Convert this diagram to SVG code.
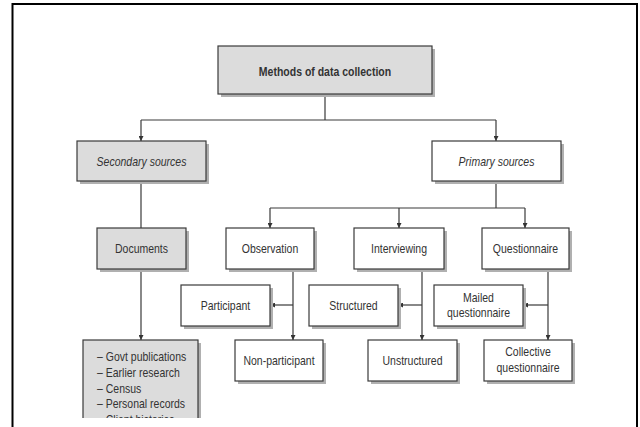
<svg xmlns="http://www.w3.org/2000/svg" width="640" height="427" viewBox="0 0 640 427">
<style>
  .box { stroke: #3a3a3a; stroke-width: 1.2; }
  .grey { fill: #dcdcdc; }
  .white { fill: #ffffff; }
  .shadow { fill: #b0b0b0; }
  .t { font-family: "Liberation Sans", Arial, sans-serif; font-size: 12.5px; fill: #333; text-anchor: middle; }
  .tl { font-family: "Liberation Sans", Arial, sans-serif; font-size: 12.5px; fill: #333; }
  .b { font-weight: bold; }
  .i { font-style: italic; }
  .conn { stroke: #3a3a3a; stroke-width: 1.2; fill: none; }
  .frame { stroke: #000; stroke-width: 2; fill: none; }
</style>
<defs>
  <marker id="arr" viewBox="0 0 10 10" refX="10" refY="5" markerWidth="5" markerHeight="5" orient="auto" markerUnits="userSpaceOnUse">
    <path d="M0,0 L10,5 L0,10 z" fill="#333"/>
  </marker>
  <clipPath id="clipList"><rect x="0" y="0" width="640" height="418"/></clipPath>
</defs>
<rect width="640" height="427" fill="#fff"/>
<path class="frame" d="M12.5,427 V4 H637 V427"/>

<g id="connectors">
  <path class="conn" d="M325,94 V120 M141,120 H496"/>
  <path class="conn" d="M141,120 V141" marker-end="url(#arr)"/>
  <path class="conn" d="M496,120 V141" marker-end="url(#arr)"/>
  <path class="conn" d="M141,181 V228"/>
  <path class="conn" d="M496,181 V208 M270,208 H525"/>
  <path class="conn" d="M270,208 V228" marker-end="url(#arr)"/>
  <path class="conn" d="M399,208 V228" marker-end="url(#arr)"/>
  <path class="conn" d="M525,208 V228" marker-end="url(#arr)"/>
  <path class="conn" d="M141,269 V340" marker-end="url(#arr)"/>
  <path class="conn" d="M293,269 V340" marker-end="url(#arr)"/>
  <path class="conn" d="M293,305 H270" marker-end="url(#arr)"/>
  <path class="conn" d="M422,269 V340" marker-end="url(#arr)"/>
  <path class="conn" d="M422,305 H398" marker-end="url(#arr)"/>
  <path class="conn" d="M548,269 V340" marker-end="url(#arr)"/>
  <path class="conn" d="M548,305 H523" marker-end="url(#arr)"/>
</g>

<g id="methods">
  <rect class="shadow" x="221" y="49" width="214" height="48"/>
  <rect class="box grey" x="218" y="46" width="214" height="48"/>
  <text class="t b" transform="translate(325,75.5) scale(0.84,1)">Methods of data collection</text>
</g>

<g id="secondary">
  <rect class="shadow" x="80" y="144" width="129" height="40"/>
  <rect class="box grey" x="77" y="141" width="129" height="40"/>
  <text class="t i" transform="translate(141.5,166) scale(0.84,1)">Secondary sources</text>
</g>

<g id="primary">
  <rect class="shadow" x="435" y="144" width="129" height="40"/>
  <rect class="box white" x="432" y="141" width="129" height="40"/>
  <text class="t i" transform="translate(496.5,166) scale(0.84,1)">Primary sources</text>
</g>

<g id="documents">
  <rect class="shadow" x="100" y="231" width="89" height="41"/>
  <rect class="box grey" x="97" y="228" width="89" height="41"/>
  <text class="t" transform="translate(141.5,252.5) scale(0.84,1)">Documents</text>
</g>

<g id="observation">
  <rect class="shadow" x="229" y="231" width="88" height="41"/>
  <rect class="box white" x="226" y="228" width="88" height="41"/>
  <text class="t" transform="translate(270,252.5) scale(0.84,1)">Observation</text>
</g>

<g id="interviewing">
  <rect class="shadow" x="357" y="231" width="90" height="41"/>
  <rect class="box white" x="354" y="228" width="90" height="41"/>
  <text class="t" transform="translate(399,252.5) scale(0.84,1)">Interviewing</text>
</g>

<g id="questionnaire">
  <rect class="shadow" x="485" y="231" width="87" height="41"/>
  <rect class="box white" x="482" y="228" width="87" height="41"/>
  <text class="t" transform="translate(525.5,252.5) scale(0.84,1)">Questionnaire</text>
</g>

<g id="participant">
  <rect class="shadow" x="184" y="288" width="89" height="41"/>
  <rect class="box white" x="181" y="285" width="89" height="41"/>
  <text class="t" transform="translate(225.5,309.5) scale(0.84,1)">Participant</text>
</g>

<g id="nonparticipant">
  <rect class="shadow" x="238" y="343" width="88" height="41"/>
  <rect class="box white" x="235" y="340" width="88" height="41"/>
  <text class="t" transform="translate(279,364.5) scale(0.84,1)">Non-participant</text>
</g>

<g id="structured">
  <rect class="shadow" x="312" y="288" width="89" height="41"/>
  <rect class="box white" x="309" y="285" width="89" height="41"/>
  <text class="t" transform="translate(353.5,309.5) scale(0.84,1)">Structured</text>
</g>

<g id="unstructured">
  <rect class="shadow" x="371" y="343" width="89" height="41"/>
  <rect class="box white" x="368" y="340" width="89" height="41"/>
  <text class="t" transform="translate(412.5,364.5) scale(0.84,1)">Unstructured</text>
</g>

<g id="mailed">
  <rect class="shadow" x="437" y="288" width="89" height="41"/>
  <rect class="box white" x="434" y="285" width="89" height="41"/>
  <text class="t" transform="translate(478.5,302) scale(0.84,1)">Mailed</text>
  <text class="t" transform="translate(478.5,317) scale(0.84,1)">questionnaire</text>
</g>

<g id="collective">
  <rect class="shadow" x="487" y="343" width="88" height="41"/>
  <rect class="box white" x="484" y="340" width="88" height="41"/>
  <text class="t" transform="translate(528,356) scale(0.84,1)">Collective</text>
  <text class="t" transform="translate(528,372) scale(0.84,1)">questionnaire</text>
</g>

<g id="doclist" clip-path="url(#clipList)">
  <rect class="shadow" x="86" y="343" width="115" height="100"/>
  <rect class="box grey" x="83" y="340" width="115" height="100"/>
  <text class="tl" transform="translate(97,361) scale(0.84,1)">– Govt publications</text>
  <text class="tl" transform="translate(97,376.5) scale(0.84,1)">– Earlier research</text>
  <text class="tl" transform="translate(97,392.5) scale(0.84,1)">– Census</text>
  <text class="tl" transform="translate(97,408) scale(0.84,1)">– Personal records</text>
  <text class="tl" transform="translate(97,423.5) scale(0.84,1)">– Client histories</text>
</g>
</svg>
